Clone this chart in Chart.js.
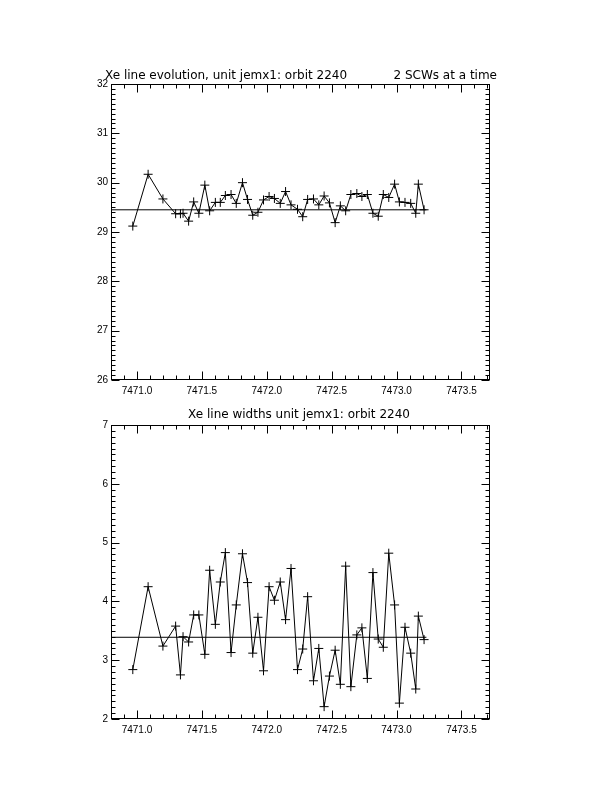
<!DOCTYPE html>
<html>
<head>
<meta charset="utf-8">
<script src="https://cdn.jsdelivr.net/npm/chart.js@4/dist/chart.umd.min.js"></script>
<style>
  body { margin: 0; background: #fff; }
  #wrap { position: relative; width: 612px; height: 792px; background: #fff; }
  canvas { position: absolute; left: 0; }
</style>
</head>
<body>
<div id="wrap">
  <canvas id="energyChart" width="612" height="350" style="top:55px"></canvas>
  <canvas id="widthChart" width="612" height="350" style="top:400px"></canvas>
</div>
<script>
// science window times (shared by both panels)
var scwTimes = [7470.968, 7471.086, 7471.200, 7471.298, 7471.335, 7471.355, 7471.398, 7471.437, 7471.477, 7471.523,
                7471.560, 7471.604, 7471.642, 7471.681, 7471.725, 7471.765, 7471.813, 7471.852, 7471.892, 7471.932,
                7471.975, 7472.018, 7472.059, 7472.104, 7472.145, 7472.187, 7472.237, 7472.277, 7472.315, 7472.360,
                7472.401, 7472.442, 7472.483, 7472.527, 7472.567, 7472.608, 7472.648, 7472.694, 7472.733, 7472.775,
                7472.818, 7472.859, 7472.898, 7472.940, 7472.985, 7473.022, 7473.065, 7473.109, 7473.148, 7473.168,
                7473.212];

// Xe line position
var lineEnergy = [29.12, 30.17, 29.67, 29.37, 29.37, 29.38, 29.22, 29.61, 29.38, 29.95,
                  29.43, 29.60, 29.60, 29.74, 29.76, 29.58, 30.00, 29.66, 29.34, 29.40,
                  29.65, 29.72, 29.68, 29.58, 29.82, 29.55, 29.46, 29.31, 29.66, 29.67,
                  29.55, 29.73, 29.59, 29.19, 29.53, 29.43, 29.76, 29.78, 29.72, 29.76,
                  29.38, 29.32, 29.76, 29.70, 29.97, 29.61, 29.60, 29.58, 29.38, 29.97,
                  29.45];

// Xe line widths
var lineWidths = [2.84, 4.25, 3.24, 3.58, 2.75, 3.40, 3.31, 3.77, 3.77, 3.10,
                  4.53, 3.61, 4.33, 4.83, 3.13, 3.94, 4.81, 4.32, 3.12, 3.73,
                  2.82, 4.25, 4.02, 4.33, 3.69, 4.56, 2.84, 3.19, 4.08, 2.65,
                  3.20, 2.21, 2.73, 3.17, 2.59, 4.60, 2.55, 3.43, 3.55, 2.69,
                  4.49, 3.36, 3.22, 4.82, 3.94, 2.27, 3.56, 3.12, 2.51, 3.75,
                  3.35];

var energyMean = 29.45;
var widthMean = 3.39;
var meanSpan = [7470.8, 7473.23];

var xRange = [7470.8, 7473.72];
var xTicks = [7471.0, 7471.5, 7472.0, 7472.5, 7473.0, 7473.5];
var energyTicks = [26, 27, 28, 29, 30, 31, 32];
var widthTicks = [2, 3, 4, 5, 6, 7];

var FONT = 'Liberation Sans';
var TITLE_FONT = 'DejaVu Sans';

// IDL style box: frame, inward ticks on all four sides, titles
const idlFrame = {
    id: 'idlFrame',
    afterDraw(chart, args, opts) {
        const ctx = chart.ctx;
        const a = chart.chartArea;
        const xs = chart.scales.x, ys = chart.scales.y;
        const L = Math.round(a.left) + 0.5, R = Math.round(a.right) - 0.5;
        const T = Math.round(a.top) + 0.5, B = Math.round(a.bottom) - 0.5;
        ctx.save();
        ctx.strokeStyle = '#000';
        ctx.lineWidth = 1;
        ctx.strokeRect(L, T, R - L, B - T);
        ctx.beginPath();
        // x ticks every 0.1, major every 0.5
        for (let i = Math.ceil(xs.min * 10 - 1e-6); i <= Math.floor(xs.max * 10 + 1e-6); i++) {
            const px = Math.round(xs.getPixelForValue(i / 10)) + 0.5;
            const len = (i % 5 === 0) ? 8 : 4;
            ctx.moveTo(px, B); ctx.lineTo(px, B - len);
            ctx.moveTo(px, T); ctx.lineTo(px, T + len);
        }
        // y ticks every 0.1, major every 1
        for (let i = Math.ceil(ys.min * 10 - 1e-6); i <= Math.floor(ys.max * 10 + 1e-6); i++) {
            const py = Math.round(ys.getPixelForValue(i / 10)) + 0.5;
            const len = (i % 10 === 0) ? 8 : 4;
            ctx.moveTo(L, py); ctx.lineTo(L + len, py);
            ctx.moveTo(R, py); ctx.lineTo(R - len, py);
        }
        ctx.stroke();

        ctx.fillStyle = '#000';
        ctx.font = '12px "' + TITLE_FONT + '"';
        ctx.textBaseline = 'middle';
        (opts.titles || []).forEach(function (t) {
            ctx.textAlign = t.align;
            ctx.fillText(t.text, t.x, t.y);
        });
        ctx.restore();
    }
};

function makeChart(id, values, mean, yTicks, padTop, xHeight, titles) {
    return new Chart(id, {
        type: 'line',
        data: {
            datasets: [
                {
                    data: scwTimes.map((t, i) => ({x: t, y: values[i]})),
                    borderColor: '#000',
                    borderWidth: 1,
                    tension: 0,
                    pointStyle: 'cross',
                    pointRadius: 4.5,
                    pointBorderColor: '#000',
                    pointBorderWidth: 1
                },
                {
                    data: meanSpan.map(t => ({x: t, y: mean})),
                    borderColor: '#000',
                    borderWidth: 1,
                    pointRadius: 0
                }
            ]
        },
        options: {
            responsive: false,
            animation: false,
            devicePixelRatio: 1,
            layout: {padding: {top: padTop, right: 122, left: 0, bottom: 0}},
            plugins: {
                legend: {display: false},
                tooltip: {enabled: false},
                idlFrame: {titles: titles}
            },
            scales: {
                x: {
                    type: 'linear',
                    min: xRange[0],
                    max: xRange[1],
                    grid: {display: false, drawTicks: false},
                    border: {display: false},
                    ticks: {
                        color: '#000',
                        font: {family: FONT, size: 10},
                        padding: 5,
                        maxRotation: 0,
                        autoSkip: false,
                        callback: v => v.toFixed(1)
                    },
                    afterBuildTicks: s => { s.ticks = xTicks.map(v => ({value: v})); },
                    afterFit: s => { s.height = xHeight; }
                },
                y: {
                    min: yTicks[0],
                    max: yTicks[yTicks.length - 1],
                    grid: {display: false, drawTicks: false},
                    border: {display: false},
                    ticks: {
                        color: '#000',
                        font: {family: FONT, size: 10},
                        padding: 3,
                        autoSkip: false,
                        callback: v => String(v)
                    },
                    afterBuildTicks: s => { s.ticks = yTicks.map(v => ({value: v})); },
                    afterFit: s => { s.width = 111; }
                }
            }
        },
        plugins: [idlFrame]
    });
}

makeChart('energyChart', lineEnergy, energyMean, energyTicks, 29, 25, [
    {text: 'Xe line evolution, unit jemx1: orbit 2240', x: 105, y: 21, align: 'left'},
    {text: '2 SCWs at a time', x: 497, y: 21, align: 'right'}
]);
makeChart('widthChart', lineWidths, widthMean, widthTicks, 25, 31, [
    {text: 'Xe line widths unit jemx1: orbit 2240', x: 299, y: 15, align: 'center'}
]);
</script>
</body>
</html>
